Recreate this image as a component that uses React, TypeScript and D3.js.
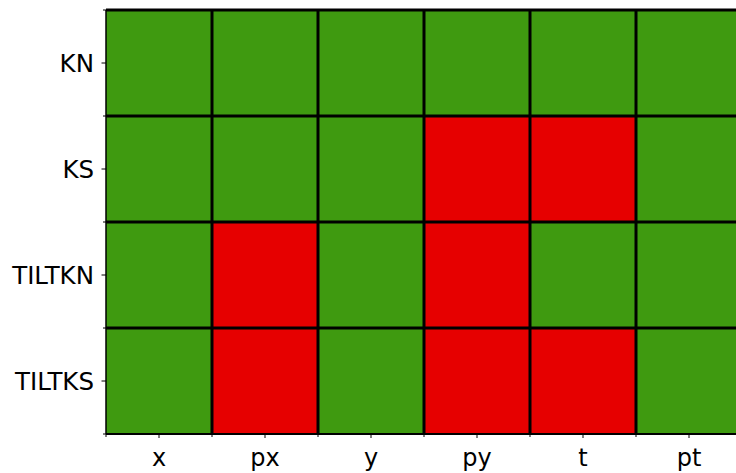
import React from "react";
import * as d3 from "d3";

const rows = ["KN", "KS", "TILTKN", "TILTKS"];
const cols = ["x", "px", "y", "py", "t", "pt"];
// 1 = pass (green), 0 = fail (red)
const values = [
  [1, 1, 1, 1, 1, 1],
  [1, 1, 1, 0, 0, 1],
  [1, 0, 1, 0, 1, 1],
  [1, 0, 1, 0, 0, 1],
];

const W = 736, H = 473;
const L = 106, T = 10, R = 742, B = 434;

export default function App() {
  const x = d3.scaleBand().domain(cols).range([L, R]).padding(0);
  const y = d3.scaleBand().domain(rows).range([T, B]).padding(0);
  const color = (v: number) => (v ? "#3f9a10" : "#e60000");
  const xb = d3.range(cols.length + 1).map((i) => L + i * x.bandwidth());
  const yb = d3.range(rows.length + 1).map((i) => T + i * y.bandwidth());
  const font = "DejaVu Sans, sans-serif";
  return (
    <svg width={W} height={H} style={{ position: "absolute", left: 0, top: 0 }}>
      <rect width={W} height={H} fill="white" />
      {values.map((row, ri) =>
        row.map((v, ci) => (
          <rect key={`${ri}-${ci}`} x={x(cols[ci])} y={y(rows[ri])} width={x.bandwidth()} height={y.bandwidth()} fill={color(v)} />
        ))
      )}
      {xb.map((px, i) => (
        <line key={"vx" + i} x1={px} x2={px} y1={T} y2={B} stroke="black" strokeWidth={i === 0 ? 1.5 : 3} />
      ))}
      {yb.map((py, i) => (
        <line key={"hy" + i} x1={L} x2={R} y1={py} y2={py} stroke="black" strokeWidth={i === rows.length ? 2 : 3} />
      ))}
      {/* minor ticks */}
      {xb.map((px, i) => (
        <line key={"mx" + i} x1={px} x2={px} y1={B} y2={B + 3} stroke="black" strokeWidth={1} />
      ))}
      {yb.map((py, i) => (
        <line key={"my" + i} x1={L} x2={L - 3} y1={py} y2={py} stroke="black" strokeWidth={1} />
      ))}
      {/* major ticks + labels */}
      {cols.map((c) => (
        <g key={"xl" + c}>
          <line x1={x(c)! + x.bandwidth() / 2} x2={x(c)! + x.bandwidth() / 2} y1={B} y2={B + 4} stroke="black" strokeWidth={1} />
          <text x={x(c)! + x.bandwidth() / 2} y={466} textAnchor="middle" fontFamily={font} fontSize={24}>{c}</text>
        </g>
      ))}
      {rows.map((r) => (
        <g key={"yl" + r}>
          <line x1={L} x2={L - 4.5} y1={y(r)! + y.bandwidth() / 2} y2={y(r)! + y.bandwidth() / 2} stroke="black" strokeWidth={1} />
          <text x={94} y={y(r)! + y.bandwidth() / 2 + 9} textAnchor="end" fontFamily={font} fontSize={24.5}>{r}</text>
        </g>
      ))}
    </svg>
  );
}
